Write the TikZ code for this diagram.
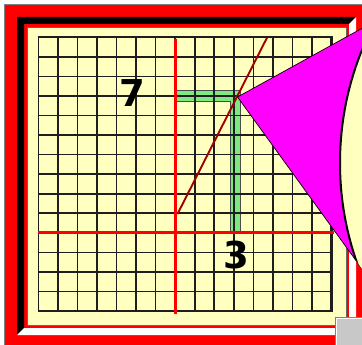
\documentclass[tikz,border=0pt]{standalone}
\usepackage{fontspec}
\newfontfamily\digitfont{DejaVu Sans}
\definecolor{cream}{RGB}{255,255,192}
\definecolor{gridline}{RGB}{30,30,30}
\definecolor{barg}{RGB}{128,232,128}
\definecolor{maroonline}{RGB}{160,0,0}
\definecolor{conecol}{RGB}{255,0,255}
\definecolor{btn}{RGB}{200,200,200}
\tikzset{
  gridstroke/.style={gridline, line width=1.6},
  axisstroke/.style={red, line width=3},
  digitlabel/.style={font=\digitfont\bfseries\fontsize{37}{37}\selectfont, inner sep=0pt}
}
\begin{document}
\begin{tikzpicture}[x=1pt,y=-1pt]
\useasboundingbox (0,0) rectangle (362,345);
\clip (0,0) rectangle (362,345);
% background and frame
\fill[white] (0,0) rectangle (362,345);
\fill[red] (4,4) rectangle (368,351);
\draw[gray, line width=0.8] (4.4,351) -- (4.4,4.4) -- (368,4.4);
\fill[black] (17,17) -- (356,17) -- (349,24) -- (24,24) -- (24,328) -- (17,335) -- cycle;
\fill[white] (356,17) -- (356,335) -- (17,335) -- (24,328) -- (349,328) -- (349,24) -- cycle;
\filldraw[fill=cream, draw=black!60, line width=0.8] (27,27) rectangle (346,325);
% green bars
\filldraw[fill=barg, draw=black!70, line width=0.7]
  (175.5,90.5) -- (240,90.5) -- (240,232.8) -- (230.5,232.8) -- (230.5,101) -- (175.5,101) -- cycle;
% grid
\foreach \i in {0,...,15} \draw[gridstroke] ({38.3+\i*19.55},37.3) -- ({38.3+\i*19.55},311);
\foreach \j in {0,...,14} \draw[gridstroke] (38.3,{37.3+\j*19.55}) -- (331.55,{37.3+\j*19.55});
\draw[gridline, line width=2.8] (37.5,311) -- (331.55,311) -- (331.55,36.5);
% axes
\draw[axisstroke] (175.15,39) -- (175.15,313.5);
\draw[axisstroke] (38.3,232.8) -- (333.7,232.8);
% line y = 2x + 1
\draw[maroonline, line width=1.9] (177.5,214) -- (267,37.7);
% magnifier cone and lens
\filldraw[fill=conecol, draw=black, line width=0.7] (237.5,97) -- (380,18.4) -- (380,293.7) -- cycle;
\begin{scope}
  \clip (237.5,97) -- (380,18.4) -- (380,293.7) -- cycle;
  \filldraw[fill=cream, draw=black, line width=2] (640,163) circle (300);
\end{scope}
% labels
\node[digitlabel] (seven) at (132,93.5) {7};
\node[digitlabel] (three) at (236.5,255.5) {3};
% button
\filldraw[fill=btn, draw=black!50, line width=0.8] (335.5,317) rectangle (365,348);
\draw[white, line width=1] (336.6,348) -- (336.6,318.1) -- (365,318.1);
\end{tikzpicture}
\end{document}
